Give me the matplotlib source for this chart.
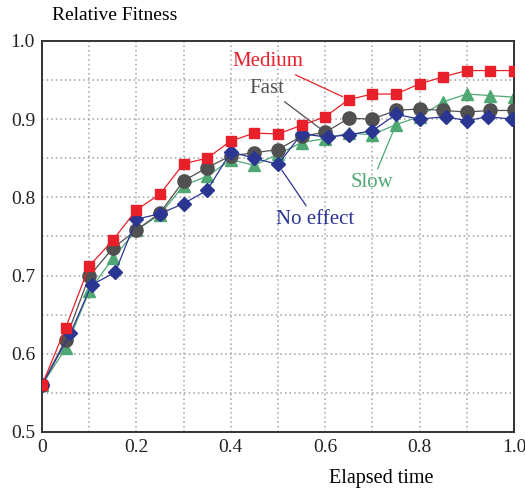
import matplotlib
matplotlib.use("Agg")
import matplotlib.pyplot as plt

# elapsed time samples (blue set is drawn slightly offset in the source figure)
x = [0, 0.05, 0.1, 0.15, 0.2, 0.25, 0.3, 0.35, 0.4, 0.45, 0.5,
     0.55, 0.6, 0.65, 0.7, 0.75, 0.8, 0.85, 0.9, 0.95, 1.0]
x_noeffect = [0, 0.06, 0.105, 0.155, 0.2, 0.25, 0.3, 0.35, 0.4, 0.45, 0.5,
              0.55, 0.605, 0.65, 0.7, 0.75, 0.8, 0.855, 0.9, 0.945, 0.995]

medium = [0.56, 0.633, 0.712, 0.745, 0.784, 0.804, 0.843, 0.850, 0.872, 0.882, 0.881,
          0.892, 0.903, 0.925, 0.932, 0.932, 0.945, 0.954, 0.962, 0.962, 0.962]
fast = [0.56, 0.618, 0.699, 0.735, 0.758, 0.780, 0.821, 0.838, 0.853, 0.857, 0.861,
        0.878, 0.883, 0.901, 0.900, 0.911, 0.913, 0.911, 0.909, 0.911, 0.911]
slow = [0.56, 0.607, 0.680, 0.722, 0.758, 0.778, 0.815, 0.827, 0.848, 0.841, 0.855,
        0.870, 0.875, 0.882, 0.880, 0.893, 0.903, 0.922, 0.932, 0.930, 0.928]
noeffect = [0.56, 0.626, 0.688, 0.704, 0.772, 0.779, 0.792, 0.809, 0.858, 0.850, 0.842,
            0.881, 0.877, 0.880, 0.885, 0.906, 0.900, 0.903, 0.898, 0.903, 0.900]

xticks = [0, 0.2, 0.4, 0.6, 0.8, 1.0]
xtick_labels = ["0", "0.2", "0.4", "0.6", "0.8", "1.0"]
yticks = [0.5, 0.6, 0.7, 0.8, 0.9, 1.0]
ytick_labels = ["0.5", "0.6", "0.7", "0.8", "0.9", "1.0"]

RED = "#E8202A"
GRAY = "#505050"
GREEN = "#4FA874"
BLUE = "#2B3592"

plt.rcParams['font.family'] = ['Liberation Serif', 'DejaVu Serif']

fig = plt.figure(figsize=(5.25, 4.92), dpi=100)
ax = fig.add_axes([0.08, 0.122, 0.899, 0.795])

# dotted grid: every 0.1 on x, every 0.05 on y
for gx in [i / 10 for i in range(1, 10)]:
    ax.axvline(gx, color="#a0a0a0", linestyle=(0, (1, 2)), linewidth=1.1, zorder=0)
for gy in [0.5 + i * 0.05 for i in range(1, 10)]:
    ax.axhline(gy, color="#a0a0a0", linestyle=(0, (1, 2)), linewidth=1.1, zorder=0)

ax.plot(x, slow, color=GREEN, marker="^", markersize=9, linewidth=0.9, zorder=2)
ax.plot(x, fast, color=GRAY, marker="o", markersize=9.5, linewidth=0.9, zorder=3)
ax.plot(x_noeffect, noeffect, color=BLUE, marker="D", markersize=7, linewidth=0.9, zorder=4)
ax.plot(x, medium, color=RED, marker="s", markersize=7.8, linewidth=0.9, zorder=5)

# labels with leader lines
arrow = dict(arrowstyle="-", lw=0.9, shrinkA=1, shrinkB=5)
ax.annotate("Medium", xy=(x[13], medium[13]), xytext=(0.478, 0.973),
            color=RED, fontsize=15, ha="center", va="center",
            arrowprops=dict(arrow, color=RED))
ax.annotate("Fast", xy=(x[12], fast[12]), xytext=(0.477, 0.939),
            color=GRAY, fontsize=15, ha="center", va="center",
            arrowprops=dict(arrow, color=GRAY))
ax.annotate("Slow", xy=(x[15], slow[15]), xytext=(0.699, 0.819),
            color=GREEN, fontsize=15, ha="center", va="center",
            arrowprops=dict(arrow, color=GREEN))
ax.annotate("No effect", xy=(x_noeffect[10], noeffect[10]), xytext=(0.579, 0.772),
            color=BLUE, fontsize=15, ha="center", va="center",
            arrowprops=dict(arrow, color=BLUE))

ax.set_xlim(0, 1.0)
ax.set_ylim(0.5, 1.0)
ax.set_xticks(xticks)
ax.set_xticklabels(xtick_labels)
ax.set_yticks(yticks)
ax.set_yticklabels(ytick_labels)
ax.tick_params(length=0, labelsize=14, pad=5, colors="#222222")
for s in ax.spines.values():
    s.set_color("#333333")
    s.set_linewidth(1.4)

fig.text(52 / 525, 1 - 15 / 492, "Relative Fitness", fontsize=14, ha="left", va="center")
fig.text(381 / 525, 1 - 478 / 492, "Elapsed time", fontsize=14.5, ha="center", va="center")

fig.savefig("out.png", dpi=100)
